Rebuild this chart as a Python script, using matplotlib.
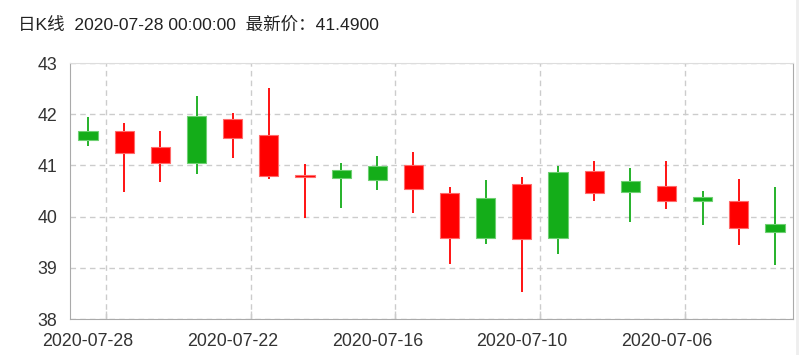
import numpy as np
import matplotlib.pyplot as plt
from matplotlib.lines import Line2D

plt.rcParams['font.family'] = ['Liberation Sans', 'Noto Sans CJK SC', 'DejaVu Sans']

# Daily K-line data, newest first (as shown left to right)
dates = ['2020-07-28', '2020-07-27', '2020-07-24', '2020-07-23', '2020-07-22',
         '2020-07-21', '2020-07-20', '2020-07-17', '2020-07-16', '2020-07-15',
         '2020-07-14', '2020-07-13', '2020-07-10', '2020-07-09', '2020-07-08',
         '2020-07-07', '2020-07-06', '2020-07-03', '2020-07-02', '2020-07-01']
opens = [41.67, 41.25, 41.05, 41.97, 41.53, 40.79, 40.77, 40.91, 40.98, 40.53,
         39.58, 40.36, 39.56, 40.88, 40.47, 40.69, 40.30, 40.39, 39.77, 39.85]
closes = [41.49, 41.67, 41.35, 41.05, 41.91, 41.60, 40.81, 40.76, 40.72, 41.00,
          40.46, 39.59, 40.63, 39.58, 40.89, 40.48, 40.60, 40.30, 40.30, 39.70]
highs = [41.94, 41.82, 41.68, 42.36, 42.03, 42.52, 41.02, 41.05, 41.19, 41.26,
         40.57, 40.72, 40.77, 40.99, 41.08, 40.95, 41.08, 40.50, 40.74, 40.58]
lows = [41.37, 40.48, 40.67, 40.84, 41.14, 40.74, 39.97, 40.17, 40.51, 40.08,
        39.07, 39.47, 38.53, 39.27, 40.30, 39.90, 40.15, 39.83, 39.45, 39.05]

label_step = 4
up_color, up_edge = '#ff0000', '#ff6a6a'
down_color, down_edge = '#14ad19', '#6fd073'

fig = plt.figure(figsize=(8.04, 3.55), dpi=100)
ax = fig.add_axes([70 / 804, 1 - 319 / 355, 723 / 804, 256 / 355])

x = np.arange(len(dates))
opens = np.array(opens)
closes = np.array(closes)
up = closes >= opens
face = np.where(up, up_color, down_color)
edge = np.where(up, up_edge, down_edge)

# wicks
ax.vlines(x, lows, highs, colors=face, linewidth=1.3, zorder=3)
# bodies
bottoms = np.minimum(opens, closes)
heights = np.abs(closes - opens)
ax.bar(x, heights, bottom=bottoms, width=0.53, color=face,
       edgecolor=edge, linewidth=0.8, zorder=4)

ax.set_xlim(-0.5, len(dates) - 0.5)
ax.set_ylim(38, 43)

# x labels centred on candles, grid on boundaries
ax.set_xticks(x[::label_step])
ax.set_xticklabels(dates[::label_step])
ax.set_xticks(x[::label_step] + 0.5, minor=True)
ax.tick_params(axis='x', which='major', length=0, pad=10, labelsize=12.8,
               labelcolor='#333333')
ax.tick_params(axis='x', which='minor', direction='in', length=6,
               color='#cccccc', width=1)
ax.set_yticks(np.arange(38, 44, 1))
ax.tick_params(axis='y', length=0, pad=9, labelsize=12.8, labelcolor='#333333')

ax.grid(axis='y', which='major', linestyle=(0, (4, 3)), color='#cccccc',
        linewidth=1, zorder=0)
ax.grid(axis='x', which='minor', linestyle=(0, (4, 3)), color='#cccccc',
        linewidth=1, zorder=0)
ax.set_axisbelow(True)

for side in ['left', 'right', 'bottom']:
    ax.spines[side].set_color('#aaaaaa')
ax.spines['top'].set_color('#dddddd')

fig.text(18 / 804, 1 - 25 / 355,
         '日K线  2020-07-28 00:00:00  最新价：41.4900',
         fontsize=12.6, color='#222222', va='center', ha='left')

fig.add_artist(Line2D([797 / 804, 797 / 804], [0, 1], color='#eeeeee',
                      linewidth=2, transform=fig.transFigure))

fig.savefig('out.png', dpi=100, facecolor='white')
